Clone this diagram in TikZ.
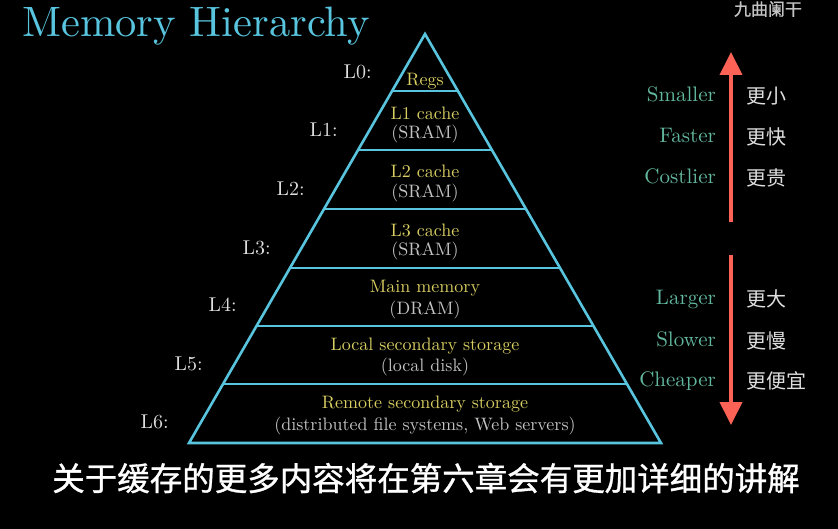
\documentclass[tikz,border=0pt]{standalone}
\usepackage{fontspec}
\setmainfont{lmroman10-regular}[Extension=.otf]
\newfontfamily\cjk{Noto Sans CJK SC}
\newfontfamily\cjkheavy[FakeBold=1]{Noto Sans CJK SC}
\usetikzlibrary{arrows.meta,calc}

\definecolor{pyrblue}{HTML}{58C4DD}
\definecolor{lvlyellow}{RGB}{216,206,98}
\definecolor{subgrey}{RGB}{195,195,195}
\definecolor{numgrey}{RGB}{222,222,222}
\definecolor{propteal}{RGB}{98,184,158}
\definecolor{arrowred}{HTML}{FC6255}

\tikzset{
  pyrline/.style={pyrblue,line width=2.6pt},
  captext/.style={inner sep=0pt,text height=0.7em,text depth=0pt,yshift=-2pt},
  lvlname/.style={captext,text=lvlyellow,font=\fontsize{18}{21}\selectfont},
  lvlsub/.style={captext,text=subgrey,font=\fontsize{18}{21}\selectfont},
  lvlnum/.style={captext,anchor=east,text=numgrey,font=\fontsize{20}{24}\selectfont},
  prop/.style={captext,anchor=east,text=propteal,font=\fontsize{21}{25}\selectfont},
  propcn/.style={inner sep=0pt,anchor=west,text=numgrey,font=\cjk\fontsize{20}{24}\selectfont},
  trend/.style={arrowred,line width=4pt,-{Triangle[width=22pt,length=23pt]}}
}

\begin{document}
\begin{tikzpicture}[x=1pt,y=-1pt]
  \fill[black] (0,0) rectangle (838,529);
  \useasboundingbox (0,0) rectangle (838,529);

  % title and watermark
  \node[anchor=west,inner sep=0pt,text=pyrblue,font=\fontsize{42.5}{50}\selectfont] (title) at (22,26) {Memory Hierarchy};
  \node[inner sep=0pt,text=subgrey,font=\cjkheavy\fontsize{17}{20}\selectfont] (mark) at (768,9) {九曲阑干};

  % pyramid outline and its layers
  \coordinate (apex) at (425,34);
  \coordinate (bl) at (189,443);
  \coordinate (br) at (661,443);
  \draw[pyrline] (bl) -- (apex) -- (br) -- cycle;
  \foreach \t in {0.1394,0.2836,0.4279,0.5721,0.7139,0.8557}
    \draw[pyrline] ($(apex)!\t!(bl)$) -- ($(apex)!\t!(br)$);

  % level numbers
  \foreach \lv/\lx/\ly in {0/372/73,1/338/131,2/305/190,3/271/249,4/237/306,5/203/365,6/169/423}
    \node[lvlnum] (L\lv) at (\lx,\ly) {L\lv:};

  % layer contents
  \node[lvlname] (regs) at (425,80) {Regs};
  \node[lvlname] (l1) at (425,114) {L1 cache};
  \node[lvlsub] (l1s) at (425,133) {(SRAM)};
  \node[lvlname] (l2) at (425,172) {L2 cache};
  \node[lvlsub] (l2s) at (425,192) {(SRAM)};
  \node[lvlname] (l3) at (425,231) {L3 cache};
  \node[lvlsub] (l3s) at (425,250) {(SRAM)};
  \node[lvlname] (mm) at (425,287) {Main memory};
  \node[lvlsub] (mms) at (425,309) {(DRAM)};
  \node[lvlname] (loc) at (425,345) {Local secondary storage};
  \node[lvlsub] (locs) at (425,366) {(local disk)};
  \node[lvlname] (rem) at (425,403) {Remote secondary storage};
  \node[lvlsub] (rems) at (425,425) {(distributed file systems, Web servers)};

  % trends
  \coordinate (upbot) at (731,222);
  \coordinate (uptop) at (731,52);
  \draw[trend] (upbot) -- (uptop);
  \coordinate (dntop) at (731,255);
  \coordinate (dnbot) at (731,425);
  \draw[trend] (dntop) -- (dnbot);
  \node[prop] (small) at (716,96) {Smaller};
  \node[prop] (fast) at (716,137) {Faster};
  \node[prop] (cost) at (716,178) {Costlier};
  \node[prop] (large) at (716,299) {Larger};
  \node[prop] (slow) at (716,341) {Slower};
  \node[prop] (cheap) at (716,381) {Cheaper};
  \node[propcn] (smallcn) at (746,96) {更小};
  \node[propcn] (fastcn) at (746,137) {更快};
  \node[propcn] (costcn) at (746,178) {更贵};
  \node[propcn] (largecn) at (746,299) {更大};
  \node[propcn] (slowcn) at (746,341) {更慢};
  \node[propcn] (cheapcn) at (746,381) {更便宜};

  % subtitle
  \node[inner sep=0pt,text=white,font=\cjkheavy\fontsize{32.5}{38}\selectfont] (sub) at (426,478)
    {关于缓存的更多内容将在第六章会有更加详细的讲解};
\end{tikzpicture}
\end{document}
